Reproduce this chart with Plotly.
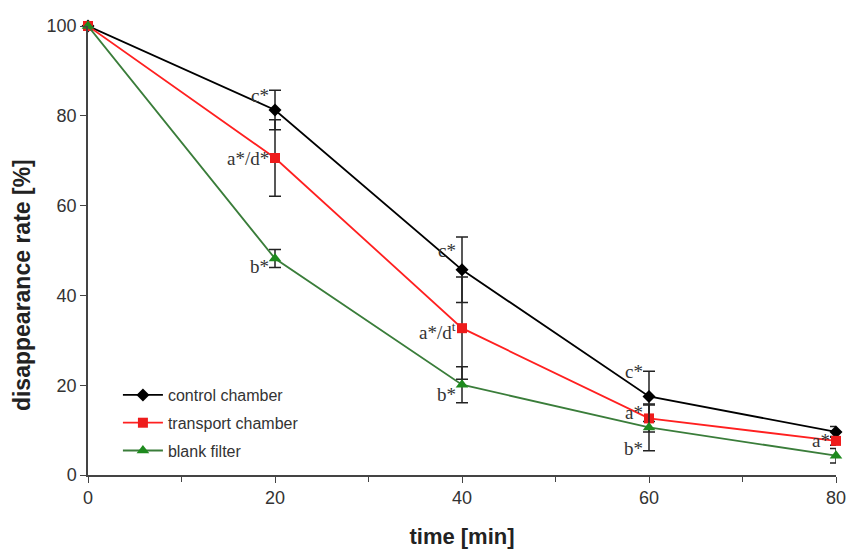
import plotly.graph_objects as go

time = [0, 20, 40, 60, 80]
control = [100, 81.3, 45.7, 17.5, 9.6]
control_err = [0, 4.4, 7.3, 5.6, 1.2]
transport = [100, 70.6, 32.7, 12.6, 7.6]
transport_err = [0, 8.5, 11.4, 3.0, 1.0]
blank = [100, 48.2, 20.1, 10.6, 4.3]
blank_err = [0, 2.0, 4.0, 5.2, 1.6]

labels = [
    (20, 84.5, "c*"), (20, 70.6, "a*/d*"), (20, 46.5, "b*"),
    (40, 50.0, "c*"), (40, 32.0, "a*/d<sup>t</sup>"), (40, 18.0, "b*"),
    (60, 23.0, "c*"), (60, 14.0, "a*"), (60, 6.0, "b*"),
    (80, 7.6, "a*"),
]

fig = go.Figure()
series = [
    ("control chamber", control, control_err, "#000000", "#000000", "diamond", 10),
    ("transport chamber", transport, transport_err, "#ff2020", "#ee1c1c", "square", 10),
    ("blank filter", blank, blank_err, "#3a7d3a", "#1e8a1e", "triangle-up", 11),
]
for name, ys, err, lc, mc, sym, sz in series:
    fig.add_trace(go.Scatter(
        x=time, y=ys, name=name, mode="lines+markers", legendgroup=name,
        line=dict(color=lc, width=1.8),
        marker=dict(symbol=sym, size=sz, color=mc),
        error_y=dict(type="data", array=err, color="#222222", thickness=1.5, width=6),
        cliponaxis=False,
    ))

for x, y, t in labels:
    fig.add_annotation(x=x, y=y, text=t, showarrow=False, xanchor="right", xshift=-4,
                       font=dict(family="Liberation Serif, Times New Roman, serif", size=19, color="#333333"))

fig.add_annotation(xref="paper", yref="paper", x=0, y=0.423, xshift=-66, xanchor="center", yanchor="middle",
                   text="<b>disappearance rate [%]</b>", textangle=-90, showarrow=False,
                   font=dict(size=23, color="#222222"))

fig.update_layout(
    width=848, height=549,
    margin=dict(l=88, r=12, t=26, b=74, autoexpand=False),
    plot_bgcolor="white", paper_bgcolor="white",
    font=dict(family="Liberation Sans, Arial, sans-serif", color="#333333"),
    legend=dict(x=0.04, y=0.216, xanchor="left", yanchor="top",
                font=dict(size=16, color="#333333"), bgcolor="rgba(0,0,0,0)",
                tracegroupgap=4, itemwidth=40),
    showlegend=True,
)
fig.update_xaxes(
    range=[0, 80], tickvals=[0, 20, 40, 60, 80], ticks="outside", ticklen=6,
    tickcolor="#444444", showline=True, linecolor="#444444", linewidth=1.5,
    showgrid=False, zeroline=False, automargin=False,
    minor=dict(tickvals=[10, 30, 50, 70], ticks="outside", ticklen=5, tickcolor="#444444"),
    tickfont=dict(size=18, color="#333333"),
    title=dict(text="<b>time [min]</b>", font=dict(size=22, color="#222222"), standoff=22),
)
fig.update_yaxes(
    range=[0, 100], tickvals=[0, 20, 40, 60, 80, 100], ticks="outside", ticklen=6,
    tickcolor="#444444", showline=True, linecolor="#444444", linewidth=1.5,
    showgrid=False, zeroline=False, automargin=False,
    tickfont=dict(size=18, color="#333333"),
)

fig.write_html("out.html", config={"displayModeBar": False},
               post_script="document.body.style.margin='0';document.body.style.overflow='hidden';")
